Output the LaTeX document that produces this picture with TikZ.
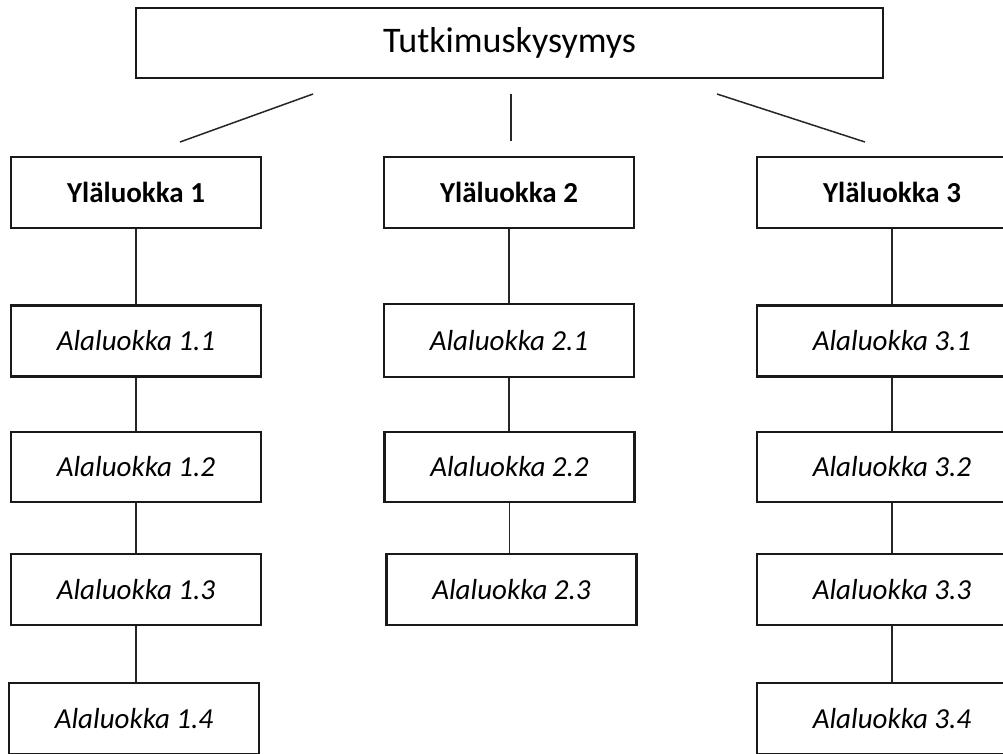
\documentclass[tikz,border=0pt]{standalone}
\usepackage{fontspec}
\setmainfont{Carlito}
\begin{document}
\begin{tikzpicture}[x=1pt,y=-1pt,
  box/.style={draw=black!90, line width=2.7pt, fill=white, inner sep=0pt, minimum width=250pt, minimum height=71pt},
  topbox/.style={box, line width=2.8pt, minimum width=747pt, minimum height=70pt, font=\fontsize{36}{40}\selectfont},
  upper/.style={box, font=\fontsize{29}{33}\selectfont\bfseries},
  lower/.style={box, font=\fontsize{29}{33}\selectfont\itshape},
  wide/.style={minimum width=270pt},
  link/.style={draw=black!85, line width=1.5pt}]
\useasboundingbox (0,0) rectangle (1003,753);
\clip (0,0) rectangle (1003,753);
\fill[white] (0,0) rectangle (1003,753);
% top
\node[topbox] (top) at (509.5,43) {Tutkimuskysymys};
% free lines below the top box
\coordinate (l1a) at (313,94); \coordinate (l1b) at (180,142);
\coordinate (l2a) at (511,94); \coordinate (l2b) at (511,141);
\coordinate (l3a) at (717,94); \coordinate (l3b) at (865,142);
\draw[link] (l1a) -- (l1b);
\draw[link] (l2a) -- (l2b);
\draw[link] (l3a) -- (l3b);
% upper categories
\node[upper] (y1) at (136,192.5) {Yläluokka 1};
\node[upper] (y2) at (509,192.5) {Yläluokka 2};
\node[upper, wide] (y3) at (892,192.5) {Yläluokka 3};
% column 1
\node[lower] (a11) at (136,341) {Alaluokka 1.1};
\node[lower, minimum height=70pt] (a12) at (136,467) {Alaluokka 1.2};
\node[lower] (a13) at (136,589.5) {Alaluokka 1.3};
\node[lower] (a14) at (134,718.5) {Alaluokka 1.4};
% column 2
\node[lower, minimum height=73pt] (a21) at (509,340.5) {Alaluokka 2.1};
\node[lower, minimum height=70pt] (a22) at (509.5,467) {Alaluokka 2.2};
\node[lower] (a23) at (511.5,589.5) {Alaluokka 2.3};
% column 3
\node[lower, wide] (a31) at (892,341) {Alaluokka 3.1};
\node[lower, wide, minimum height=70pt] (a32) at (892,467) {Alaluokka 3.2};
\node[lower, wide] (a33) at (892,589.5) {Alaluokka 3.3};
\node[lower, wide] (a34) at (892,718.5) {Alaluokka 3.4};
% connectors
\draw[link] (y1.south) -- (a11.north);
\draw[link] (a11.south) -- (a12.north);
\draw[link] (a12.south) -- (a13.north);
\draw[link] (a13.south) -- (a14.north -| a13.south);
\draw[link] (y2.south) -- (a21.north);
\draw[link] (a21.south) -- (a22.north -| a21.south);
\draw[link] (a22.south) -- (a23.north -| a22.south);
\draw[link] (y3.south) -- (a31.north);
\draw[link] (a31.south) -- (a32.north);
\draw[link] (a32.south) -- (a33.north);
\draw[link] (a33.south) -- (a34.north);
\end{tikzpicture}
\end{document}
